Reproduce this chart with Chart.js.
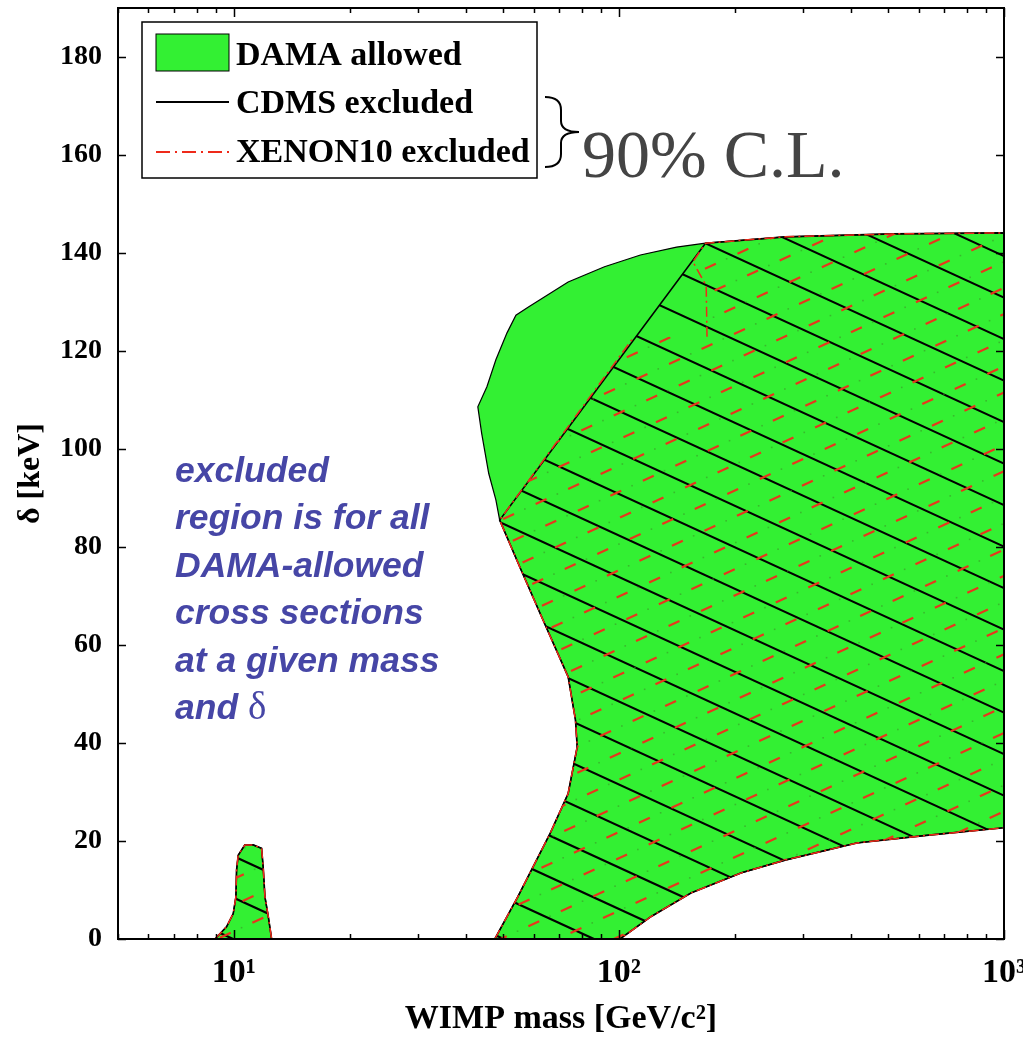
<!DOCTYPE html>
<html>
<head>
<meta charset="utf-8">
<script src="https://cdn.jsdelivr.net/npm/chart.js@4.4.1/dist/chart.umd.min.js"></script>
<style>
  html, body { margin: 0; padding: 0; background: #fff; }
  #wrap { width: 1023px; height: 1040px; }
</style>
</head>
<body>
<div id="wrap"><canvas id="myChart" width="1023" height="1040"></canvas></div>
<script>
// region outlines: WIMP mass [GeV/c^2] vs delta [keV]
const damaMass = [47.6, 54.6, 66.3, 73.8, 77.9, 77.1, 73.8, 63.5, 55.7, 49.0, 47.9, 45.9, 44.0, 43.0, 45.4, 47.9, 51.2, 54.0, 58.2, 73.8, 91.7, 113.7, 141.1, 167.8, 270, 515, 1000, 1000, 638, 415, 270, 208, 153.8, 121.3, 100.6, 47.6];
const damaDelta = [0, 8.6, 21.6, 29.7, 39.2, 44.7, 53.5, 65.1, 75.3, 85.5, 89.6, 95.0, 103.2, 108.6, 112.7, 118.2, 123.7, 127.3, 129.0, 134.1, 137.2, 139.6, 141.2, 142.0, 143.3, 143.9, 144.1, 22.7, 21.2, 19.6, 16.1, 13.5, 9.4, 4.6, 0, 0];

const cdmsMass = [47.6, 54.6, 66.3, 73.8, 77.9, 77.1, 73.8, 63.5, 55.7, 49.0, 167.8, 270, 515, 1000, 1000, 638, 415, 270, 208, 153.8, 121.3, 100.6, 47.6];
const cdmsDelta = [0, 8.6, 21.6, 29.7, 39.2, 44.7, 53.5, 65.1, 75.3, 85.5, 142.0, 143.3, 143.9, 144.1, 22.7, 21.2, 19.6, 16.1, 13.5, 9.4, 4.6, 0, 0];

const xenonMass = [47.6, 54.6, 66.3, 73.8, 77.9, 77.1, 73.8, 63.5, 55.7, 49.0, 109.4, 169.3, 168.5, 155.6, 167.8, 270, 515, 1000, 1000, 638, 415, 270, 208, 153.8, 121.3, 100.6, 47.6];
const xenonDelta = [0, 8.6, 21.6, 29.7, 39.2, 44.7, 53.5, 65.1, 75.3, 85.5, 122.9, 122.9, 133.3, 138.2, 142.0, 143.3, 143.9, 144.1, 22.7, 21.2, 19.6, 16.1, 13.5, 9.4, 4.6, 0, 0];
const xenonEdgeBreak = 11; // no drawn edge between points 10 and 11

const islandMass = [8.93, 9.57, 9.96, 10.12, 10.16, 10.26, 10.68, 11.22, 11.80, 11.91, 12.04, 12.28, 12.53, 8.93];
const islandDelta = [0, 2.5, 5.2, 8.6, 14.1, 17.1, 19.2, 19.2, 18.5, 14.8, 8.6, 4.6, 0, 0];

const xTickValues = [5, 6, 7, 8, 9, 10, 20, 30, 40, 50, 60, 70, 80, 90, 100, 200, 300, 400, 500, 600, 700, 800, 900, 1000];
const xMajorTicks = [10, 100, 1000];
const xTickLabels = ['10\u00b9', '10\u00b2', '10\u00b3'];
const yTicks = [0, 20, 40, 60, 80, 100, 120, 140, 160, 180];

const legendLabels = ['DAMA allowed', 'CDMS excluded', 'XENON10 excluded'];
const noteLines = ['excluded', 'region is for all', 'DAMA-allowed', 'cross sections', 'at a given mass', 'and '];

const green = '#33f033';
const red = '#ee2a1a';

function pts(xs, ys) {
    return xs.map((x, i) => ({ x: x, y: ys[i] }));
}

// hatch textures, same size as the canvas so they line up with it
function blackHatch(ctx, w, h) {
    const c = document.createElement('canvas');
    c.width = w; c.height = h;
    const g = c.getContext('2d');
    g.strokeStyle = '#000';
    g.lineWidth = 2.2;
    const slope = 0.46, gap = 41.5, c0 = 243.3 - slope * 705.5;
    for (let k = -40; k <= 40; k++) {
        const b = c0 + k * gap;
        g.beginPath();
        g.moveTo(0, b);
        g.lineTo(w, b + slope * w);
        g.stroke();
    }
    return ctx.createPattern(c, 'no-repeat');
}

function redHatch(ctx, w, h) {
    const c = document.createElement('canvas');
    c.width = w; c.height = h;
    const g = c.getContext('2d');
    const ox = 794.3, oy = 541.7, ax = 32.5, ay = -15, bx = 9.7, by = 21.7;
    const al = Math.hypot(ax, ay), dx = ax / al, dy = ay / al, half = 6;
    g.lineWidth = 2.2;
    for (let i = -60; i <= 60; i++) {
        for (let j = -80; j <= 80; j++) {
            const px = ox + i * ax + j * bx, py = oy + i * ay + j * by;
            if (px < -20 || px > w + 20 || py < -20 || py > h + 20) continue;
            g.strokeStyle = '#e8361c';
            g.beginPath();
            g.moveTo(px - dx * half, py - dy * half);
            g.lineTo(px + dx * half, py + dy * half);
            g.stroke();
            g.fillStyle = 'rgba(60,150,40,0.6)';
            g.fillRect(px + ax / 2 - 0.8, py + ay / 2 - 0.8, 1.6, 1.6);
        }
    }
    return ctx.createPattern(c, 'no-repeat');
}

const overlay = {
    id: 'overlay',
    afterDatasetsDraw(chart) {
        const ctx = chart.ctx, a = chart.chartArea;
        const xs = chart.scales.x, ys = chart.scales.y;
        ctx.save();
        ctx.strokeStyle = '#000';
        ctx.lineWidth = 1.5;
        xTickValues.forEach(v => {
            const p = Math.round(xs.getPixelForValue(v)) + 0.5;
            const len = xMajorTicks.includes(v) ? 9 : 5;
            ctx.beginPath();
            ctx.moveTo(p, a.bottom); ctx.lineTo(p, a.bottom - len);
            ctx.moveTo(p, a.top); ctx.lineTo(p, a.top + len);
            ctx.stroke();
        });
        yTicks.forEach(v => {
            const p = Math.round(ys.getPixelForValue(v)) + 0.5;
            ctx.beginPath();
            ctx.moveTo(a.left, p); ctx.lineTo(a.left + 8, p);
            ctx.moveTo(a.right, p); ctx.lineTo(a.right - 8, p);
            ctx.stroke();
        });
        ctx.lineWidth = 2;
        ctx.strokeRect(a.left, a.top, a.right - a.left, a.bottom - a.top);
        ctx.restore();
    },
    afterDraw(chart) {
        const ctx = chart.ctx;
        ctx.save();
        // legend
        ctx.fillStyle = '#fff';
        ctx.fillRect(142, 22, 395, 156);
        ctx.strokeStyle = '#000';
        ctx.lineWidth = 1.5;
        ctx.strokeRect(142, 22, 395, 156);
        ctx.fillStyle = green;
        ctx.fillRect(156, 34, 73, 37);
        ctx.lineWidth = 1;
        ctx.strokeRect(156, 34, 73, 37);
        ctx.lineWidth = 2;
        ctx.beginPath(); ctx.moveTo(156, 102); ctx.lineTo(229, 102); ctx.stroke();
        ctx.strokeStyle = red;
        ctx.setLineDash([14, 5, 2, 5]);
        ctx.beginPath(); ctx.moveTo(156, 152); ctx.lineTo(229, 152); ctx.stroke();
        ctx.setLineDash([]);
        ctx.fillStyle = '#000';
        ctx.font = 'bold 34px "Liberation Serif"';
        ctx.textBaseline = 'middle';
        ctx.textAlign = 'left';
        [54, 102, 151].forEach((y, i) => ctx.fillText(legendLabels[i], 236, y + 2));

        // brace and confidence level
        ctx.strokeStyle = '#000';
        ctx.lineWidth = 2;
        ctx.beginPath();
        ctx.moveTo(545, 97);
        ctx.quadraticCurveTo(561, 97, 561, 110);
        ctx.lineTo(561, 121);
        ctx.quadraticCurveTo(561, 132, 579, 132);
        ctx.quadraticCurveTo(561, 132, 561, 143);
        ctx.lineTo(561, 154);
        ctx.quadraticCurveTo(561, 167, 545, 167);
        ctx.stroke();
        ctx.fillStyle = '#444';
        ctx.font = '68px "Liberation Serif"';
        ctx.textBaseline = 'alphabetic';
        ctx.fillText('90% C.L.', 582, 177);

        // note
        ctx.fillStyle = '#4646a6';
        ctx.font = 'italic bold 35.5px "Liberation Sans"';
        const base = [482, 529, 577, 624, 672, 719];
        noteLines.forEach((t, i) => ctx.fillText(t, 175, base[i]));
        const w = ctx.measureText(noteLines[5]).width;
        ctx.font = '39px "Liberation Serif"';
        ctx.fillText('\u03b4', 175 + w, base[5]);
        ctx.restore();
    }
};

function init() {
    const canvas = document.getElementById('myChart');
    const ctx = canvas.getContext('2d');
    const hatchK = blackHatch(ctx, canvas.width, canvas.height);
    const hatchR = redHatch(ctx, canvas.width, canvas.height);

    const xenonEdge = pts(xenonMass, xenonDelta);
    xenonEdge.splice(xenonEdgeBreak, 0, { x: null, y: null });

    new Chart(canvas, {
        type: 'scatter',
        data: {
            datasets: [{
                label: 'DAMA allowed',
                data: pts(damaMass, damaDelta),
                showLine: true, fill: 'shape', backgroundColor: green,
                borderColor: '#000', borderWidth: 1.2, pointRadius: 0, order: 5
            }, {
                label: 'DAMA allowed (low mass)',
                data: pts(islandMass, islandDelta),
                showLine: true, fill: 'shape', backgroundColor: green,
                borderColor: '#000', borderWidth: 1.2, pointRadius: 0, order: 5
            }, {
                label: 'CDMS excluded',
                data: pts(cdmsMass, cdmsDelta),
                showLine: true, fill: 'shape', backgroundColor: hatchK,
                borderColor: '#000', borderWidth: 1.6, pointRadius: 0, order: 3
            }, {
                label: 'CDMS excluded (low mass)',
                data: pts(islandMass, islandDelta),
                showLine: true, fill: 'shape', backgroundColor: hatchK,
                borderColor: '#000', borderWidth: 1.6, pointRadius: 0, order: 3
            }, {
                label: 'XENON10 excluded',
                data: pts(xenonMass, xenonDelta),
                showLine: true, fill: 'shape', backgroundColor: hatchR,
                borderWidth: 0, borderColor: 'rgba(0,0,0,0)', pointRadius: 0, order: 2
            }, {
                label: 'XENON10 edge',
                data: xenonEdge,
                showLine: true, fill: false, spanGaps: false,
                borderColor: red, borderWidth: 1.5, borderDash: [10, 4, 2, 4],
                pointRadius: 0, order: 1
            }, {
                label: 'XENON10 excluded (low mass)',
                data: pts(islandMass, islandDelta),
                showLine: true, fill: 'shape', backgroundColor: hatchR,
                borderColor: red, borderWidth: 1.5, borderDash: [10, 4, 2, 4],
                pointRadius: 0, order: 1
            }]
        },
        options: {
            responsive: false,
            animation: false,
            events: [],
            layout: { padding: { top: 8, right: 19, bottom: 0, left: 0 } },
            elements: { line: { tension: 0 } },
            plugins: {
                legend: { display: false },
                tooltip: { enabled: false }
            },
            scales: {
                x: {
                    type: 'logarithmic',
                    min: 5,
                    max: 1000,
                    grid: { display: false, drawTicks: false },
                    border: { display: false },
                    afterBuildTicks: s => { s.ticks = xTickValues.map(v => ({ value: v, major: xMajorTicks.includes(v) })); },
                    afterFit: s => { s.height = 101; s.paddingLeft = 0; s.paddingRight = 0; },
                    ticks: {
                        autoSkip: false, maxRotation: 0, minRotation: 0,
                        padding: 14, color: '#000',
                        font: { family: 'Liberation Serif', size: 34, weight: 'bold' },
                        callback: v => {
                            const i = xMajorTicks.indexOf(v);
                            return i >= 0 ? xTickLabels[i] : '';
                        }
                    },
                    title: {
                        display: true, text: 'WIMP mass [GeV/c\u00b2]', color: '#000',
                        font: { family: 'Liberation Serif', size: 34, weight: 'bold' },
                        padding: { top: 0, bottom: 0 }
                    }
                },
                y: {
                    min: 0,
                    max: 190,
                    grid: { display: false, drawTicks: false },
                    border: { display: false },
                    afterBuildTicks: s => { s.ticks = yTicks.map(v => ({ value: v })); },
                    afterFit: s => { s.width = 118; s.paddingTop = 0; s.paddingBottom = 0; },
                    ticks: {
                        padding: 16, color: '#000',
                        font: { family: 'Liberation Serif', size: 28, weight: 'bold' }
                    },
                    title: {
                        display: true, text: '\u03b4 [keV]', color: '#000',
                        font: { family: 'Liberation Serif', size: 32, weight: 'bold' },
                        padding: { top: 12, bottom: 0 }
                    }
                }
            }
        },
        plugins: [overlay]
    });
}

window.addEventListener('load', init);
</script>
</body>
</html>
